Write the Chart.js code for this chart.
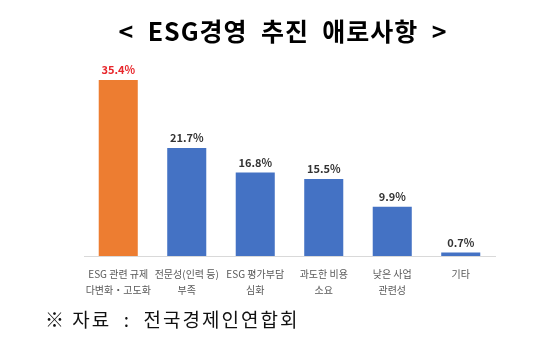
<!DOCTYPE html>
<html><head><meta charset="utf-8">
<script src="https://cdn.jsdelivr.net/npm/chart.js@4/dist/chart.umd.min.js"></script>
<style>
html,body{margin:0;padding:0;background:#fff;}
#wrap{position:relative;width:536px;height:351px;overflow:hidden;}
#title{position:absolute;left:0;top:12px;width:566px;text-align:center;font-family:"Noto Sans CJK KR";font-weight:700;font-size:25px;letter-spacing:1px;line-height:36px;color:#000;white-space:pre;}
#src{position:absolute;left:45px;top:305px;font-family:"Noto Sans CJK KR";font-size:19px;letter-spacing:2px;line-height:28px;color:#111;white-space:pre;}
canvas{position:absolute;left:0;top:0;}
</style></head>
<body><div id="wrap">
<canvas id="c" width="536" height="351"></canvas>
<div id="title">&lt;  ESG경영  추진  애로사항  &gt;</div>
<div id="src">※ 자료  :  전국경제인연합회</div>
</div>
<script>
const categories = [
  ["ESG 관련 규제","다변화・고도화"],
  ["전문성(인력 등)","부족"],
  ["ESG 평가부담","심화"],
  ["과도한 비용","소요"],
  ["낮은 사업","관련성"],
  ["기타"]
];
const values = [35.4, 21.7, 16.8, 15.5, 9.9, 0.7];
const valueLabels = ["35.4%","21.7%","16.8%","15.5%","9.9%","0.7%"];
const barColors = ["#ED7D31","#4472C4","#4472C4","#4472C4","#4472C4","#4472C4"];
const labelColors = ["#E8262B","#333333","#333333","#333333","#333333","#333333"];

const valuePlugin = {
  id:'valueLabels',
  afterDatasetsDraw(chart){
    const ctx = chart.ctx;
    const meta = chart.getDatasetMeta(0);
    ctx.save();
    ctx.font = '700 11px "Noto Sans CJK KR"';
    ctx.textAlign = 'center';
    ctx.textBaseline = 'middle';
    meta.data.forEach((bar,i)=>{
      ctx.fillStyle = labelColors[i];
      ctx.fillText(valueLabels[i], bar.x, bar.y - 10);
    });
    ctx.restore();
  }
};

new Chart(document.getElementById('c'), {
  type:'bar',
  data:{labels:categories, datasets:[{data:values, backgroundColor:barColors, barPercentage:0.57, categoryPercentage:1}]},
  options:{
    responsive:false, animation:false,
    layout:{padding:{left:84,right:41,top:57,bottom:0}},
    plugins:{legend:{display:false},tooltip:{enabled:false},title:{display:false}},
    scales:{
      y:{display:false,min:0,max:40},
      x:{
        grid:{display:false},
        border:{display:true,color:'#d9d9d9',width:1},
        ticks:{color:'#595959',font:{family:'"Noto Sans CJK KR"',size:10,lineHeight:1.6},padding:2,maxRotation:0,autoSkip:false},
        afterFit(scale){scale.height = 95;}
      }
    }
  },
  plugins:[valuePlugin]
});
</script>
</body></html>
